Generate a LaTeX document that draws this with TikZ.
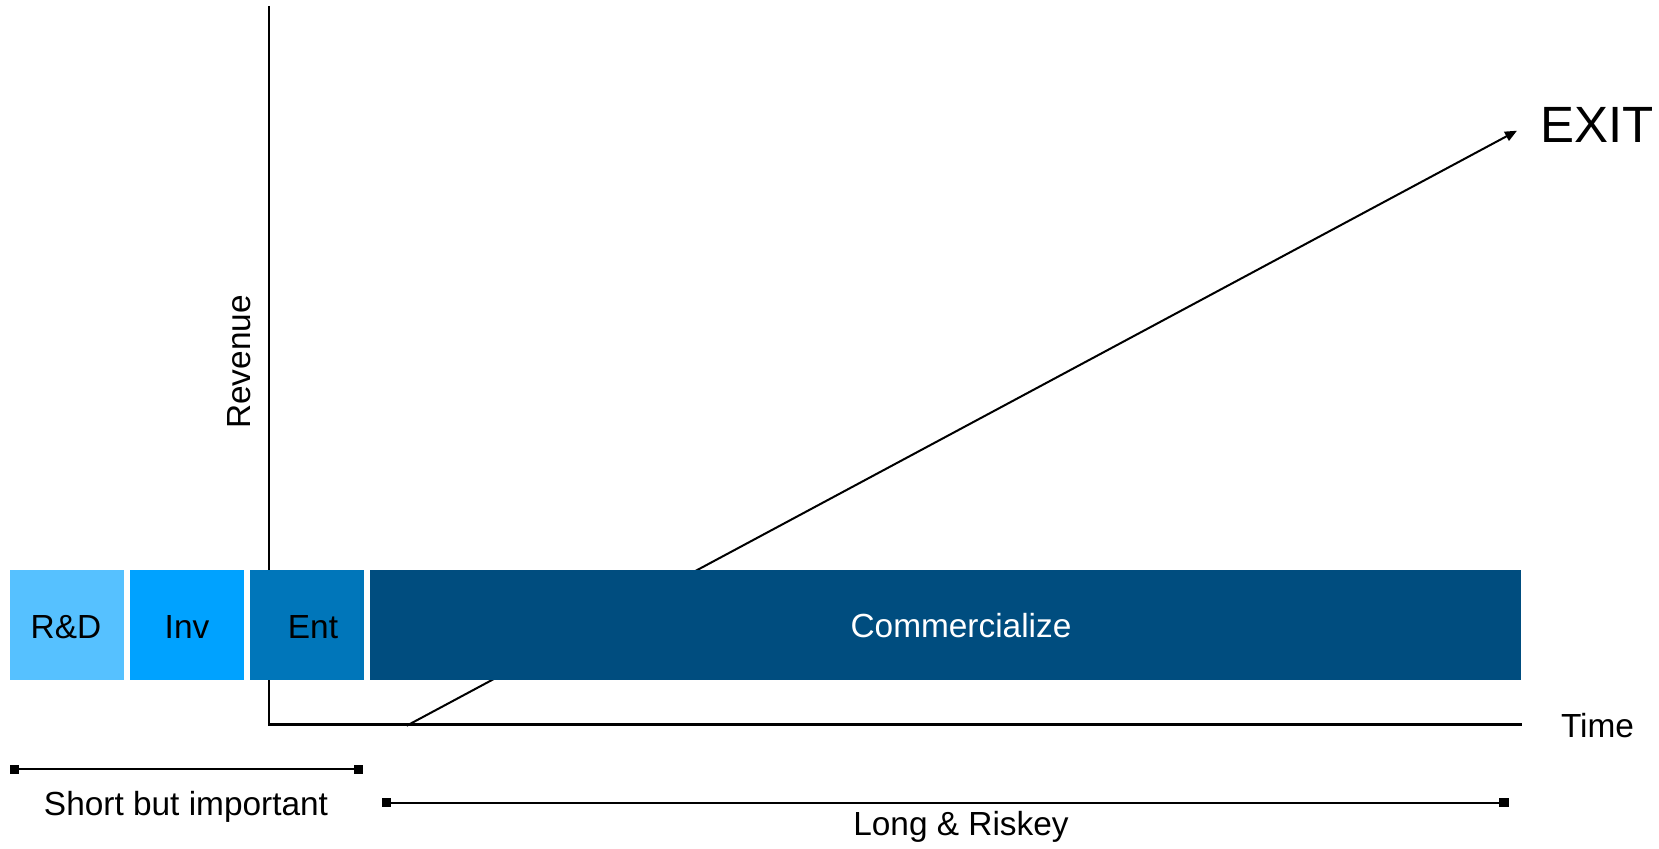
\documentclass[tikz,border=0pt]{standalone}
\usepackage{fontspec}
\setmainfont{Liberation Sans}
\usetikzlibrary{arrows.meta}
\definecolor{cRD}{HTML}{56C1FF}
\definecolor{cInv}{HTML}{00A2FF}
\definecolor{cEnt}{HTML}{0076BA}
\definecolor{cCom}{HTML}{004D7F}
\tikzset{
  phase/.style={draw=none, inner sep=0pt, outer sep=0pt},
  lbl/.style={inner sep=0pt, outer sep=0pt, font=\fontsize{16.7}{20}\selectfont},
  sq/.style={fill=black, inner sep=0pt, outer sep=0pt, minimum size=4.6pt},
  axisline/.style={line width=1.2pt, black},
  thinline/.style={line width=1pt, black},
}
\begin{document}
\begin{tikzpicture}[x=0.5pt, y=-0.5pt]
\useasboundingbox (0,0) rectangle (1659,849);
% coordinates
\coordinate (ytop) at (269,6);
\coordinate (orig) at (269,724.5);
\coordinate (xend) at (1522,724.5);
\coordinate (tstart) at (406.7,725.7);
\coordinate (tend) at (1517,130.7);
% axes and trend line (behind boxes)
\draw[axisline] (ytop) -- (orig) -- (xend);
\draw[thinline, -{Triangle[length=6pt,width=5pt]}] (tstart) -- (tend);
% phase boxes
\fill[cRD] (10,570) rectangle (124,680);
\fill[cInv] (130,570) rectangle (244,680);
\fill[cEnt] (250,570) rectangle (364,680);
\fill[cCom] (370,570) rectangle (1521,680);
\node[lbl, anchor=base] (rd) at (66,638) {R\&D};
\node[lbl, anchor=base] (inv) at (187,638) {Inv};
\node[lbl, anchor=base] (ent) at (313,638) {Ent};
\node[lbl, anchor=base, text=white] (com) at (961,637) {Commercialize};
% axis labels
\node[lbl, anchor=base, rotate=90] (rev) at (250,362) {Revenue};
\node[lbl, anchor=base] (time) at (1597.5,737) {Time};
\node[inner sep=0pt, outer sep=0pt, anchor=base west, font=\fontsize{25.5}{30}\selectfont] (exit) at (1540,143) {EXIT};
% brackets
\node[sq] (b1l) at (14.3,769.3) {};
\node[sq] (b1r) at (358.5,769.3) {};
\draw[thinline] (b1l) -- (b1r);
\node[lbl, anchor=base] (short) at (186,815) {Short but important};
\node[sq] (b2l) at (386.5,802.7) {};
\node[sq] (b2r) at (1504,802.7) {};
\draw[thinline] (b2l) -- (b2r);
\node[lbl, anchor=base] (long) at (961,835) {Long \& Riskey};
\end{tikzpicture}
\end{document}
